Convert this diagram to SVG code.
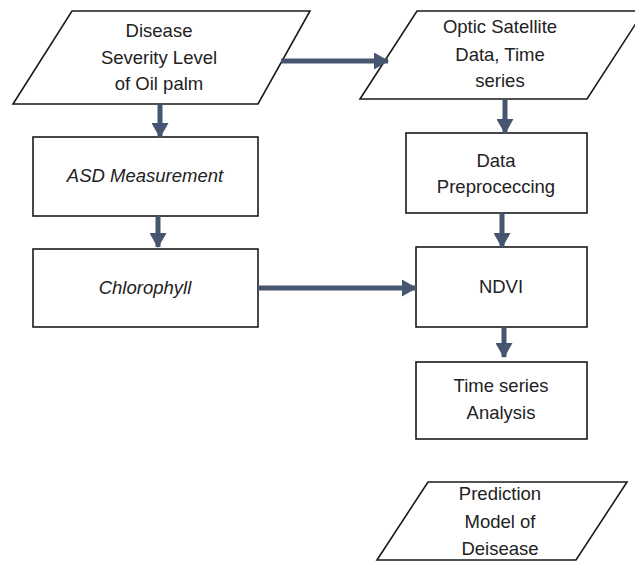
<svg xmlns="http://www.w3.org/2000/svg" width="635" height="563" viewBox="0 0 635 563">
<defs>
<marker id="ah" markerUnits="userSpaceOnUse" markerWidth="15" markerHeight="17" refX="14" refY="8.5" orient="auto">
<path d="M0,0 L15,8.5 L0,17 Z" fill="#465670"/>
</marker>
<style>
.box{fill:#fff;stroke:#1a1a1a;stroke-width:1.6}
.t{font-family:"Liberation Sans",Arial,sans-serif;font-size:18.5px;fill:#222;text-anchor:middle}
.i{font-style:italic}
.c{stroke:#465670;stroke-width:5;fill:none;marker-end:url(#ah)}
</style>
</defs>
<rect width="635" height="563" fill="#fff"/>
<g id="n1">
<polygon class="box" points="72,11 310,11 258,104 13,104"/>
<text class="t" x="159" y="37">Disease</text>
<text class="t" x="159" y="64">Severity Level</text>
<text class="t" x="159" y="90">of Oil palm</text>
</g>
<g id="n2">
<polygon class="box" points="417,11 644,11 587,99 360,99"/>
<text class="t" x="500" y="33">Optic Satellite</text>
<text class="t" x="500" y="61">Data, Time</text>
<text class="t" x="500" y="87">series</text>
</g>
<g id="n3">
<rect class="box" x="33" y="137" width="225" height="79"/>
<text class="t i" x="145" y="182">ASD Measurement</text>
</g>
<g id="n4">
<rect class="box" x="33" y="249" width="225" height="78"/>
<text class="t i" x="145" y="294">Chlorophyll</text>
</g>
<g id="n5">
<rect class="box" x="406" y="133" width="181" height="80"/>
<text class="t" x="496" y="167">Data</text>
<text class="t" x="496" y="193">Preproceccing</text>
</g>
<g id="n6">
<rect class="box" x="416" y="247" width="171" height="80"/>
<text class="t" x="501" y="293">NDVI</text>
</g>
<g id="n7">
<rect class="box" x="416" y="362" width="171" height="77"/>
<text class="t" x="501" y="392">Time series</text>
<text class="t" x="501" y="419">Analysis</text>
</g>
<g id="n8">
<polygon class="box" points="428,482 627,482 576,560 377,560"/>
<text class="t" x="500" y="500">Prediction</text>
<text class="t" x="500" y="528">Model of</text>
<text class="t" x="500" y="555">Deisease</text>
</g>
<g id="connectors">
<path class="c" d="M281,61 L388,61"/>
<path class="c" d="M160,104 L160,137"/>
<path class="c" d="M158,216 L158,247"/>
<path class="c" d="M258,288 L416,288"/>
<path class="c" d="M505,99 L505,133"/>
<path class="c" d="M502,213 L502,247"/>
<path class="c" d="M504,327 L504,357"/>
</g>
</svg>
